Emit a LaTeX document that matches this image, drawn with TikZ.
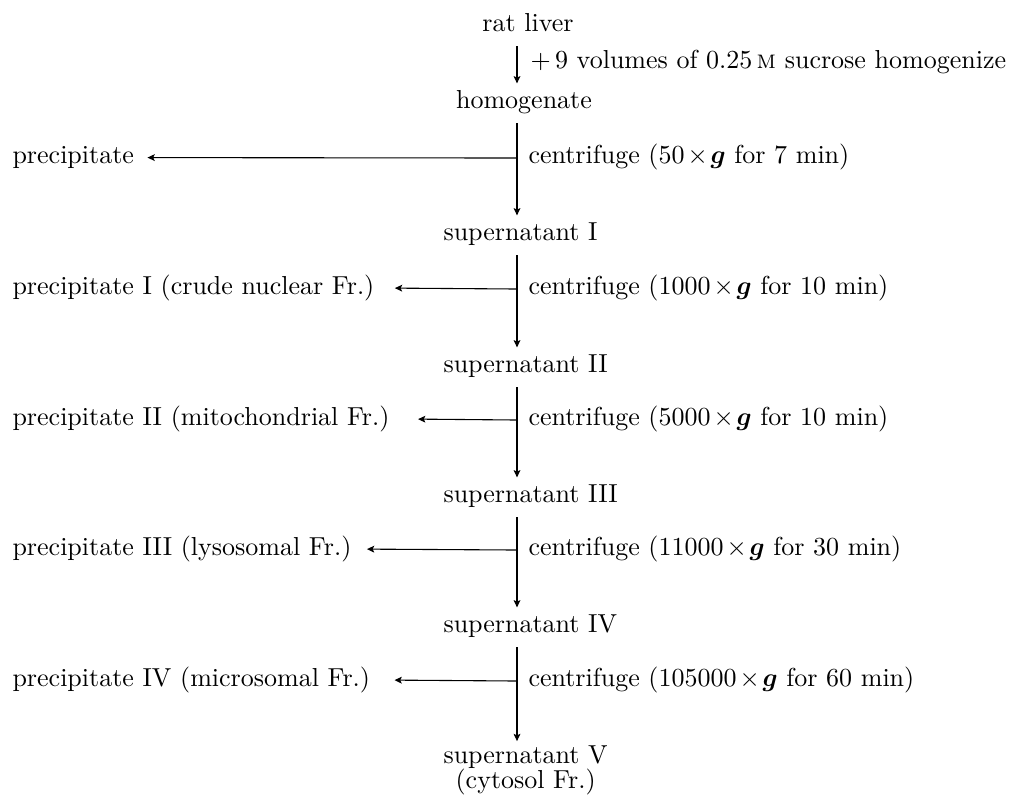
\documentclass[tikz,border=0pt]{standalone}
\usepackage{amsmath}
\usetikzlibrary{arrows.meta}
\newcommand{\xg}{\mkern2mu{\times}\mkern2mu\boldsymbol{g}}
\begin{document}
\begin{tikzpicture}[x=0.3846pt,y=-0.3846pt,
  lbl/.style={inner sep=0pt, font=\fontsize{10}{12}\selectfont},
  stage/.style={lbl, inner ysep=3.5pt, text height=6pt, text depth=2pt},
  arr/.style={line width=0.42pt, -{Stealth[length=2.8pt,width=2.6pt,inset=0.6pt]}},
  ln/.style={line width=0.42pt}]
\useasboundingbox (0,0) rectangle (1013,799);
% main column
\node[stage, anchor=mid] (rat) at (528,26) {rat liver};
\node[stage, anchor=mid] (hom) at (524,103) {homogenate};
\node[stage, anchor=mid west] (s1) at (443,235) {supernatant I};
\node[stage, anchor=mid west] (s2) at (443,367) {supernatant II};
\node[stage, anchor=mid west] (s3) at (443,497) {supernatant III};
\node[stage, anchor=mid west] (s4) at (443,627) {supernatant IV};
\node[lbl, anchor=north west, align=center] (s5) at (443,745) {supernatant V\\[-2.5pt](cytosol Fr.)};
% junctions
\coordinate (j0) at (517,158);
\coordinate (j1) at (517,289);
\coordinate (j2) at (517,420);
\coordinate (j3) at (517,550);
\coordinate (j4) at (517,681);
% step labels
\node[lbl, anchor=mid west] (add) at (530,63) {$+\,9$ volumes of 0.25\,\textsc{m} sucrose homogenize};
\node[lbl, anchor=mid west] (c0) at (528,158) {centrifuge ($50\xg$ for 7 min)};
\node[lbl, anchor=mid west] (c1) at (528,289) {centrifuge ($1000\xg$ for 10 min)};
\node[lbl, anchor=mid west] (c2) at (528,420) {centrifuge ($5000\xg$ for 10 min)};
\node[lbl, anchor=mid west] (c3) at (528,550) {centrifuge ($11000\xg$ for 30 min)};
\node[lbl, anchor=mid west] (c4) at (528,681) {centrifuge ($105000\xg$ for 60 min)};
% precipitates
\node[lbl, anchor=mid west] (p0) at (12,158) {precipitate};
\node[lbl, anchor=mid west] (p1) at (12,289) {precipitate I (crude nuclear Fr.)};
\node[lbl, anchor=mid west] (p2) at (12,420) {precipitate II (mitochondrial Fr.)};
\node[lbl, anchor=mid west] (p3) at (12,550) {precipitate III (lysosomal Fr.)};
\node[lbl, anchor=mid west] (p4) at (12,681) {precipitate IV (microsomal Fr.)};
% vertical connectors
\draw[arr] (rat.south -| j0) -- (hom.north -| j0);
\draw[arr] (hom.south -| j0) -- (s1.north -| j0);
\draw[arr] (s1.south -| j1) -- (s2.north -| j1);
\draw[arr] (s2.south -| j2) -- (s3.north -| j2);
\draw[arr] (s3.south -| j3) -- (s4.north -| j3);
\draw[arr] (s4.south -| j4) -- ([yshift=1.5pt]s5.north -| j4);
% horizontal connectors
\draw[arr] (j0) -- ([xshift=5pt]p0.east);
\draw[arr] (j1) -- ([xshift=7.7pt]p1.east);
\draw[arr] (j2) -- ([xshift=10.8pt]p2.east);
\draw[arr] (j3) -- ([xshift=5.8pt]p3.east);
\draw[arr] (j4) -- ([xshift=9.2pt]p4.east);
\end{tikzpicture}
\end{document}
